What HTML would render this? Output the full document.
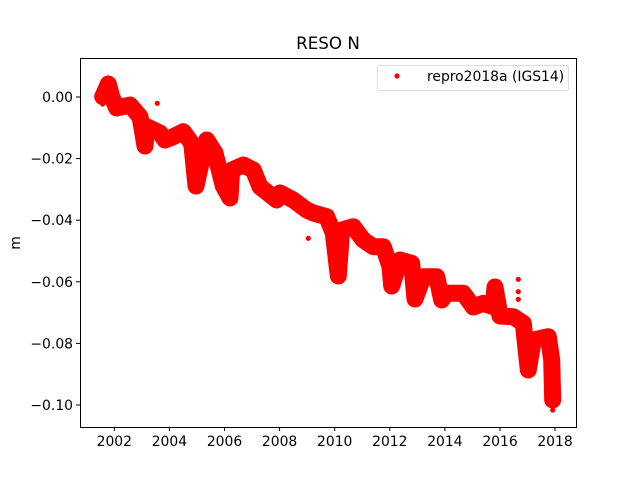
<!DOCTYPE html>
<html><head><style>
body{margin:0;background:#fff;}
svg{display:block;font-family:"DejaVu Sans","Liberation Sans",sans-serif;}
</style></head><body>
<svg width="640" height="480" viewBox="0 0 640 480">
<rect width="640" height="480" fill="#fff"/>
<text x="328" y="49" font-size="16.7" text-anchor="middle">RESO N</text>
<g fill="none" stroke="#ff0000" stroke-width="17" stroke-linejoin="round" stroke-linecap="round">
<polyline points="102.7,96.7 108.3,84 111.7,96.7 116.7,108 130,105 140,116.7 145,146 146.7,126.7 160,133 165,140 173.3,136.7 183.3,131.7 191.7,143.3 196,186 201.7,160 206.7,140 215,153 223.3,186 230,198 231.7,170 243.3,165 253.3,170 260,186.7 276.7,200 280,193 293.3,200 306.7,210 313.3,213 326.7,216.7 333.3,233 338.3,276 341.7,230 353.3,226.7 363.3,240 373.3,246.7 383.3,246.7 390,266.7 391.7,286 400,260 411.7,263.3 415,299 423.3,276.7 436.7,276.7 441.7,300 446.7,293.3 463.3,293.3 473.3,307 483.3,303.3 493.3,306.7 495,287 500,316 513.3,316.7 523.3,323.3 528.3,370 533.3,340 548.3,336.7 551.7,360 552.7,400"/>
</g>
<g fill="#ff0000">
<circle cx="518.3" cy="279.3" r="2.6"/><circle cx="518.3" cy="291.7" r="2.6"/><circle cx="518.3" cy="299.3" r="2.6"/>
<circle cx="157.3" cy="103.3" r="2.6"/><circle cx="308.3" cy="238.3" r="2.6"/>
<circle cx="552.7" cy="410" r="2.6"/><circle cx="102.7" cy="104" r="2.6"/>
</g>
<rect x="80.5" y="58.5" width="496" height="369" fill="none" stroke="#000" stroke-width="1"/>
<g stroke="#000" stroke-width="1">
<line x1="114.3" y1="427" x2="114.3" y2="431"/><line x1="169.4" y1="427" x2="169.4" y2="431"/><line x1="224.5" y1="427" x2="224.5" y2="431"/><line x1="279.6" y1="427" x2="279.6" y2="431"/><line x1="334.7" y1="427" x2="334.7" y2="431"/><line x1="389.8" y1="427" x2="389.8" y2="431"/><line x1="444.9" y1="427" x2="444.9" y2="431"/><line x1="500" y1="427" x2="500" y2="431"/><line x1="555" y1="427" x2="555" y2="431"/>
<line x1="76" y1="97" x2="80" y2="97"/><line x1="76" y1="158.6" x2="80" y2="158.6"/><line x1="76" y1="220.2" x2="80" y2="220.2"/><line x1="76" y1="281.8" x2="80" y2="281.8"/><line x1="76" y1="343.4" x2="80" y2="343.4"/><line x1="76" y1="405" x2="80" y2="405"/>
</g>
<g font-size="13.9" text-anchor="middle">
<text x="114.3" y="446">2002</text><text x="169.4" y="446">2004</text><text x="224.5" y="446">2006</text><text x="279.6" y="446">2008</text><text x="334.7" y="446">2010</text><text x="389.8" y="446">2012</text><text x="444.9" y="446">2014</text><text x="500" y="446">2016</text><text x="555" y="446">2018</text>
</g>
<g font-size="13.9" text-anchor="end">
<text x="73" y="102">0.00</text><text x="73" y="163.6">−0.02</text><text x="73" y="225.2">−0.04</text><text x="73" y="286.8">−0.06</text><text x="73" y="348.4">−0.08</text><text x="73" y="410">−0.10</text>
</g>
<text x="20" y="243" font-size="13.9" text-anchor="middle" transform="rotate(-90 20 243)">m</text>
<rect x="377.5" y="65.5" width="191" height="25" rx="2" fill="#fff" stroke="#ddd"/>
<circle cx="397" cy="76" r="2.6" fill="#ff0000"/>
<text x="427" y="81" font-size="13.9">repro2018a (IGS14)</text>
</svg>
</body></html>
